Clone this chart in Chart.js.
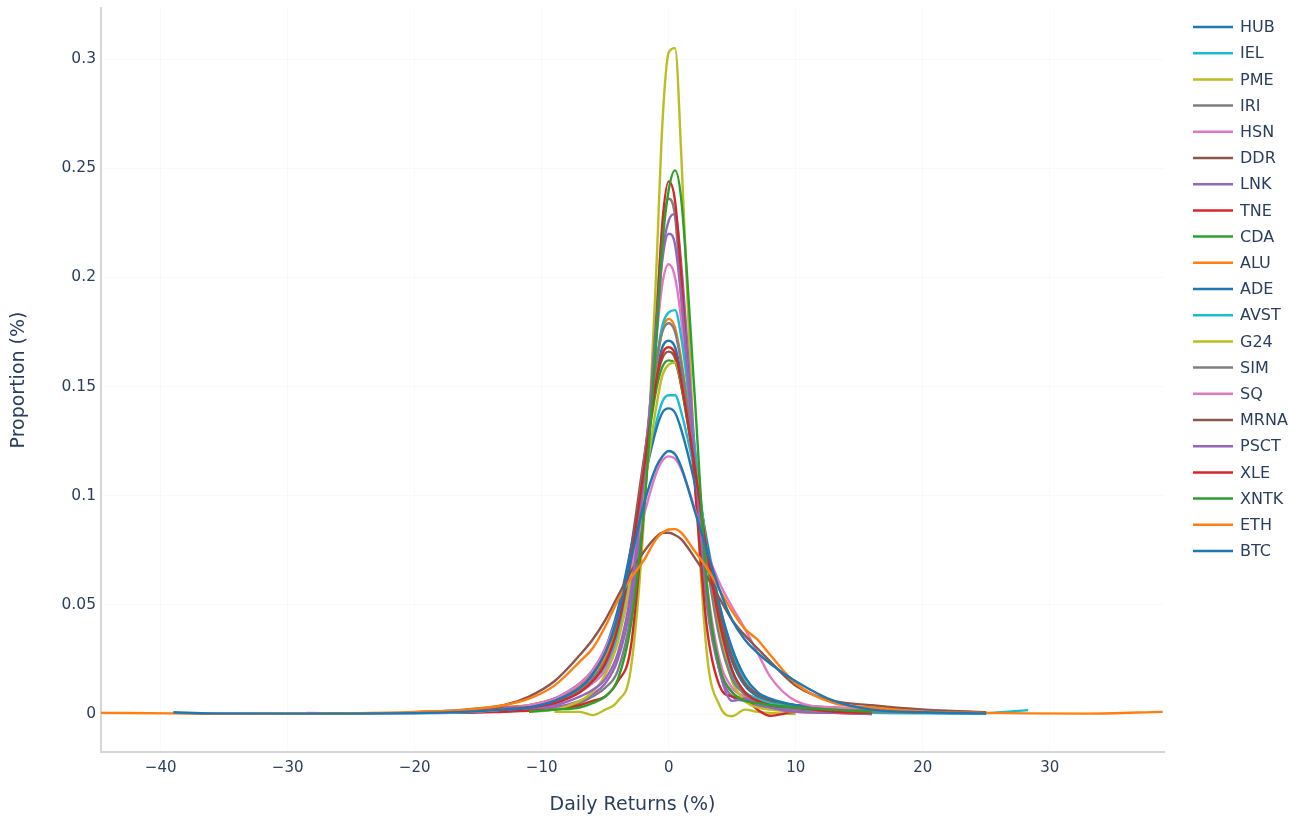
<!DOCTYPE html>
<html>
<head>
<meta charset="utf-8">
<script src="https://cdn.jsdelivr.net/npm/chart.js"></script>
<style>
  html, body { margin: 0; padding: 0; background: #fff; }
</style>
</head>
<body>
<canvas id="kdeReturns" width="1306" height="823"></canvas>

<script>
// daily return grid (%) shared by every density curve
const RETURNS = [-44.7, -39, -36, -28.5, -24.4, -20, -16, -13, -11, -9, -7, -6, -5, -4, -3, -2, -1, -0.5,
                 0, 0.5, 1, 2, 3, 4, 5, 6, 7, 8, 10, 13, 16, 20, 25, 28.3, 33, 38.9];

const X_TICKS = [-40, -30, -20, -10, 0, 10, 20, 30];
const Y_TICKS = [0, 0.05, 0.1, 0.15, 0.2, 0.25, 0.3];

const TICKERS = ['HUB', 'IEL', 'PME', 'IRI', 'HSN', 'DDR', 'LNK', 'TNE', 'CDA', 'ALU', 'ADE',
                 'AVST', 'G24', 'SIM', 'SQ', 'MRNA', 'PSCT', 'XLE', 'XNTK', 'ETH', 'BTC'];
const COLORS = ['#1f77b4', '#17becf', '#bcbd22', '#7f7f7f', '#e377c2', '#8c564b', '#9467bd',
                '#d62728', '#2ca02c', '#ff7f0e', '#1f77b4', '#17becf', '#bcbd22', '#7f7f7f',
                '#e377c2', '#8c564b', '#9467bd', '#d62728', '#2ca02c', '#ff7f0e', '#1f77b4'];

// density values, one per RETURNS point (null = outside the curve)
const HUB = [null, null, null, null, null, null, 0.001,
  0.002, 0.003, 0.006, 0.012, 0.018, 0.027, 0.042, 0.072, 0.112, 0.155, 0.168,
  0.171, 0.168, 0.155, 0.118, 0.078, 0.045, 0.024, 0.013, 0.008, 0.006,
  0.004, 0.002, 0.001, 0.0005, null, null, null, null];
const IEL = [null, null, null, null, null, null, null,
  0.002, 0.003, 0.006, 0.013, 0.019, 0.029, 0.046, 0.073, 0.105, 0.133, 0.143,
  0.146, 0.146, 0.138, 0.112, 0.08, 0.05, 0.028, 0.015, 0.009, 0.006,
  0.004, 0.002, 0.001, 0.0005, 0.0003, null, null, null];
const PME = [null, null, null, null, null, null, null,
  null, null, 0.001, 0.001, -0.0005, 0.002, 0.006, 0.02, 0.085, 0.2, 0.27,
  0.303, 0.305, 0.255, 0.12, 0.028, 0.004, -0.001, 0.002, 0.001, 0.0005,
  0, null, null, null, null, null, null, null];
const IRI = [null, null, null, null, null, null, null,
  0.001, 0.002, 0.003, 0.005, 0.008, 0.012, 0.02, 0.045, 0.1, 0.18, 0.222,
  0.236, 0.228, 0.19, 0.11, 0.05, 0.02, 0.01, 0.006, 0.004, 0.003,
  0.002, 0.001, 0.0005, null, null, null, null, null];
const HSN = [null, null, null, null, null, null, null,
  0.002, 0.003, 0.005, 0.01, 0.014, 0.02, 0.035, 0.06, 0.11, 0.17, 0.197,
  0.206, 0.2, 0.18, 0.12, 0.06, 0.025, 0.012, 0.008, 0.006, 0.005,
  0.003, 0.002, 0.001, 0.0005, null, null, null, null];
const DDR = [null, null, null, null, null, 0.0008, 0.001,
  0.003, 0.004, 0.007, 0.013, 0.019, 0.028, 0.045, 0.075, 0.115, 0.152, 0.163,
  0.166, 0.163, 0.15, 0.115, 0.078, 0.047, 0.026, 0.014, 0.009, 0.006,
  0.004, 0.003, 0.002, 0.001, 0.0005, null, null, null];
const LNK = [null, null, null, null, null, null, null,
  0.002, 0.002, 0.003, 0.006, 0.009, 0.014, 0.025, 0.05, 0.1, 0.17, 0.21,
  0.226, 0.229, 0.205, 0.125, 0.055, 0.02, 0.008, 0.006, 0.004, 0.003,
  0.002, 0.001, 0.0005, null, null, null, null, null];
const TNE = [null, null, null, null, null, 0.0005, 0.0005,
  0.001, 0.0015, 0.002, 0.004, 0.006, 0.008, 0.015, 0.03, 0.09, 0.175, 0.225,
  0.244, 0.235, 0.2, 0.11, 0.04, 0.013, 0.008, 0.007, 0.002, -0.0008,
  0.001, 0.0005, 0, null, null, null, null, null];
const CDA = [null, null, null, null, null, null, null,
  0.002, 0.003, 0.005, 0.011, 0.016, 0.025, 0.042, 0.072, 0.11, 0.148, 0.159,
  0.162, 0.161, 0.15, 0.115, 0.075, 0.042, 0.02, 0.01, 0.007, 0.005,
  0.004, 0.002, 0.001, null, null, null, null, null];
const ALU = [null, null, null, null, null, null, null,
  0.003, 0.004, 0.007, 0.013, 0.018, 0.026, 0.04, 0.068, 0.11, 0.158, 0.176,
  0.181, 0.177, 0.162, 0.12, 0.072, 0.038, 0.018, 0.009, 0.006, 0.004,
  0.003, 0.002, 0.001, 0.0005, null, null, null, null];
const ADE = [null, null, null, null, null, null, null,
  0.002, 0.003, 0.007, 0.014, 0.02, 0.03, 0.048, 0.075, 0.105, 0.13, 0.138,
  0.14, 0.138, 0.13, 0.107, 0.078, 0.05, 0.03, 0.017, 0.01, 0.007,
  0.004, 0.002, 0.001, 0.0005, 0.0003, null, null, null];
const AVST = [null, null, null, null, 0.0003, 0.0003, 0.0008,
  0.002, 0.003, 0.005, 0.01, 0.015, 0.022, 0.037, 0.065, 0.11, 0.16, 0.178,
  0.184, 0.185, 0.172, 0.125, 0.075, 0.038, 0.018, 0.01, 0.007, 0.005,
  0.003, 0.001, 0.0005, 0.0003, 0.0004, 0.0018, null, null];
const G24 = [null, null, null, null, null, null, null,
  null, 0.001, 0.002, 0.006, 0.01, 0.018, 0.033, 0.062, 0.1, 0.14, 0.155,
  0.16, 0.161, 0.152, 0.118, 0.075, 0.038, 0.015, 0.006, 0.003, 0.002,
  0.001, 0.0005, null, null, null, null, null, null];
const SIM = [null, null, null, null, null, null, null,
  0.002, 0.003, 0.005, 0.011, 0.016, 0.024, 0.04, 0.07, 0.113, 0.16, 0.175,
  0.179, 0.175, 0.16, 0.118, 0.07, 0.035, 0.016, 0.009, 0.006, 0.004,
  0.003, 0.0015, 0.001, 0.0005, null, null, null, null];
const SQ = [null, null, null, 0.0005, 0.0003, 0.0004, 0.001,
  0.002, 0.004, 0.007, 0.014, 0.02, 0.03, 0.045, 0.067, 0.09, 0.11, 0.116,
  0.118, 0.117, 0.112, 0.095, 0.075, 0.06, 0.049, 0.039, 0.028, 0.017,
  0.006, 0.003, 0.0025, 0.002, 0.0005, null, null, null];
const MRNA = [null, null, null, null, null, 0.0008, 0.002,
  0.004, 0.008, 0.015, 0.027, 0.034, 0.043, 0.054, 0.065, 0.074, 0.081, 0.083,
  0.083, 0.082, 0.08, 0.072, 0.063, 0.053, 0.043, 0.036, 0.03, 0.024,
  0.013, 0.006, 0.004, 0.002, 0.0008, null, null, null];
const PSCT = [null, null, null, null, null, null, null,
  0.003, 0.003, 0.004, 0.008, 0.011, 0.016, 0.028, 0.055, 0.105, 0.175, 0.208,
  0.22, 0.215, 0.19, 0.12, 0.055, 0.02, 0.006, 0.007, 0.005, 0.003,
  0.001, 0.0005, 0, null, null, null, null, null];
const XLE = [null, null, null, null, null, null, null,
  0.002, 0.003, 0.005, 0.01, 0.015, 0.023, 0.04, 0.07, 0.11, 0.152, 0.165,
  0.168, 0.165, 0.152, 0.115, 0.075, 0.042, 0.02, 0.01, 0.006, 0.004,
  0.003, 0.001, 0.0005, null, null, null, null, null];
const XNTK = [null, null, null, null, null, null, null,
  null, 0.001, 0.002, 0.003, 0.005, 0.008, 0.016, 0.04, 0.09, 0.17, 0.215,
  0.24, 0.249, 0.235, 0.15, 0.06, 0.022, 0.01, 0.006, 0.005, 0.004,
  0.003, 0.002, 0.001, null, null, null, null, null];
const ETH = [0.0005, 0.0003, 0.0001, 0.0003, 0.0004, 0.001, 0.002,
  0.004, 0.007, 0.013, 0.024, 0.03, 0.04, 0.052, 0.062, 0.07, 0.08, 0.083,
  0.0845, 0.0847, 0.083, 0.075, 0.067, 0.057, 0.047, 0.039, 0.034, 0.027,
  0.014, 0.005, 0.003, 0.0012, 0.0005, 0.0003, 0.0002, 0.001];
const BTC = [null, 0.0008, 0.0003, 0.0002, 0.0002, 0.0004, 0.001,
  0.002, 0.003, 0.006, 0.012, 0.018, 0.028, 0.045, 0.07, 0.095, 0.113, 0.118,
  0.1205, 0.119, 0.113, 0.094, 0.075, 0.057, 0.043, 0.034, 0.028, 0.023,
  0.015, 0.006, 0.002, 0.0008, 0.0003, null, null, null];

const SERIES = [HUB, IEL, PME, IRI, HSN, DDR, LNK, TNE, CDA, ALU, ADE,
                AVST, G24, SIM, SQ, MRNA, PSCT, XLE, XNTK, ETH, BTC];

const FONT = '"DejaVu Sans", Verdana, sans-serif';
const INK = '#2a3f5f';

const datasets = SERIES.map((vals, i) => ({
  label: TICKERS[i],
  data: RETURNS.map((x, j) => ({ x: x, y: vals[j] })).filter(p => p.y !== null),
  borderColor: COLORS[i],
  backgroundColor: COLORS[i],
  borderWidth: 2.4,
  pointRadius: 0,
  cubicInterpolationMode: 'monotone',
  order: SERIES.length - i   // later traces on top, like plotly
}));

// legend on the right, drawn by hand so its spacing matches
const sideLegend = {
  id: 'sideLegend',
  afterDraw(chart) {
    const ctx = chart.ctx;
    ctx.save();
    ctx.font = '16px ' + FONT;
    ctx.textBaseline = 'middle';
    ctx.lineWidth = 2.5;
    chart.data.datasets.forEach((ds, i) => {
      const y = 27 + i * 26.2;
      ctx.strokeStyle = ds.borderColor;
      ctx.beginPath();
      ctx.moveTo(1193, y);
      ctx.lineTo(1233, y);
      ctx.stroke();
      ctx.fillStyle = INK;
      ctx.fillText(ds.label, 1240, y + 1);
    });
    ctx.restore();
  }
};

const ctx = document.getElementById('kdeReturns').getContext('2d');
new Chart(ctx, {
  type: 'line',
  data: { datasets: datasets },
  plugins: [sideLegend],
  options: {
    responsive: false,
    animation: false,
    layout: { padding: { top: 8, right: 142, left: 0, bottom: 0 } },
    plugins: {
      legend: { display: false },
      tooltip: { enabled: false }
    },
    scales: {
      x: {
        type: 'linear',
        min: -44.7,
        max: 39,
        afterBuildTicks: s => { s.ticks = X_TICKS.map(v => ({ value: v })); },
        afterFit: s => { s.height = 71; s.paddingLeft = 0; s.paddingRight = 0; },
        ticks: {
          color: INK,
          font: { family: FONT, size: 15 },
          padding: 7,
          maxRotation: 0,
          callback: v => (v < 0 ? '\u2212' + Math.abs(v) : String(v))
        },
        grid: { color: 'rgba(0,0,0,0.025)', drawTicks: false },
        border: { color: '#d6d6d6', width: 2 },
        title: {
          display: true,
          text: 'Daily Returns (%)',
          color: INK,
          font: { family: FONT, size: 19 },
          padding: { top: 0, bottom: 7 }
        }
      },
      y: {
        min: -0.0174,
        max: 0.3234,
        afterBuildTicks: s => { s.ticks = Y_TICKS.map(v => ({ value: v })); },
        afterFit: s => { s.width = 101; s.paddingTop = 0; s.paddingBottom = 0; },
        ticks: {
          color: INK,
          font: { family: FONT, size: 15.5 },
          padding: 5,
          callback: v => String(v)
        },
        grid: { color: 'rgba(0,0,0,0.025)', drawTicks: false },
        border: { color: '#d6d6d6', width: 2 },
        title: {
          display: true,
          text: 'Proportion (%)',
          color: INK,
          font: { family: FONT, size: 19 },
          padding: { top: 8, bottom: 0 }
        }
      }
    }
  }
});
</script>
</body>
</html>
